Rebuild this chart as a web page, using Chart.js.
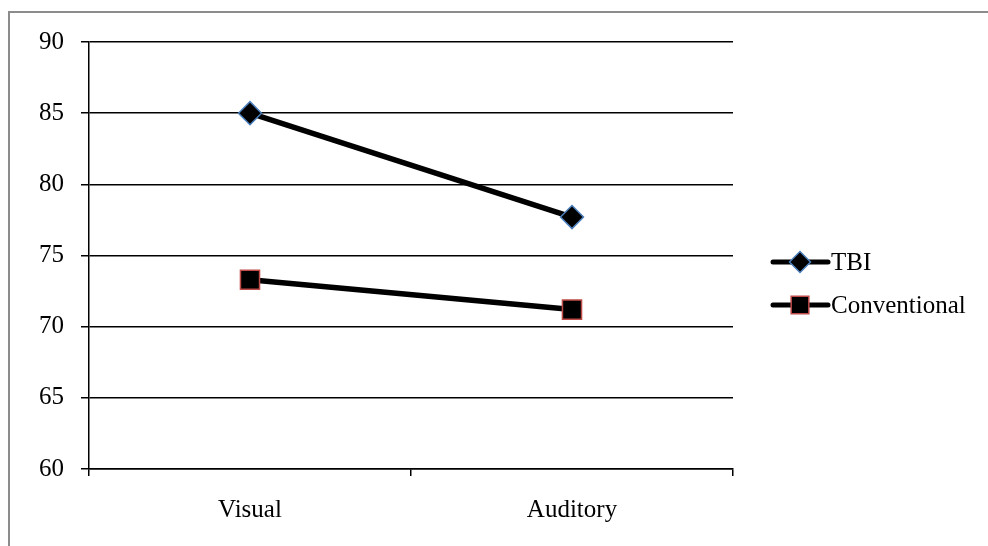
<!DOCTYPE html>
<html>
<head>
<meta charset="utf-8">
<script src="https://cdn.jsdelivr.net/npm/chart.js@4/dist/chart.umd.min.js"></script>
<style>
  html, body { margin: 0; padding: 0; background: #fff; }
  #wrap { position: relative; width: 988px; height: 546px; overflow: hidden; }
  #frame { position: absolute; left: 8px; top: 11px; width: 1000px; height: 600px; border-left: 2px solid #8c8c8c; border-top: 2px solid #8c8c8c; }
  canvas { position: absolute; left: 0; top: 0; }
</style>
</head>
<body>
<div id="wrap">
  <div id="frame"></div>
  <canvas id="chart" width="988" height="546"></canvas>
</div>
<script>
// data
var categories = ["Visual", "Auditory"];
var tbi = [85, 77.7];
var conventional = [73.3, 71.2];
var yMin = 60, yMax = 90, yStep = 5;

var fontFamily = "'Liberation Serif', 'Times New Roman', serif";
var fontSize = 25;

// legend drawn next to the plot, line + marker like the original
var sideLegend = {
    id: "sideLegend",
    afterDraw: function(chart) {
        var ctx = chart.ctx;
        var area = chart.chartArea;
        var x0 = area.right + 40;
        var rows = [area.top + 220, area.top + 263];
        chart.data.datasets.forEach(function(ds, i) {
            var y = rows[i];
            ctx.save();
            ctx.strokeStyle = "#000";
            ctx.lineWidth = 5;
            ctx.lineCap = "round";
            ctx.beginPath();
            ctx.moveTo(x0, y);
            ctx.lineTo(x0 + 55, y);
            ctx.stroke();
            ctx.fillStyle = "#000";
            ctx.strokeStyle = ds.pointBorderColor;
            ctx.lineWidth = ds.pointBorderWidth;
            Chart.helpers.drawPoint(ctx, {
                pointStyle: ds.pointStyle,
                rotation: 0,
                radius: ds.legendRadius,
                borderWidth: ds.pointBorderWidth
            }, x0 + 27, y);
            ctx.fillStyle = "#000";
            ctx.font = fontSize + "px " + fontFamily;
            ctx.textBaseline = "middle";
            ctx.textAlign = "left";
            ctx.fillText(ds.label, x0 + 58, y + 1);
            ctx.restore();
        });
    }
};

new Chart(document.getElementById("chart"), {
    type: "line",
    data: {
        labels: categories,
        datasets: [{
            label: "TBI",
            data: tbi,
            borderColor: "#000",
            borderWidth: 5.5,
            pointStyle: "rectRot",
            pointRadius: 11.5,
            legendRadius: 10.5,
            pointBackgroundColor: "#000",
            pointBorderColor: "#4a7ebb",
            pointBorderWidth: 1.5
        }, {
            label: "Conventional",
            data: conventional,
            borderColor: "#000",
            borderWidth: 5.5,
            pointStyle: "rect",
            pointRadius: 13.5,
            legendRadius: 12.5,
            pointBackgroundColor: "#000",
            pointBorderColor: "#be4b48",
            pointBorderWidth: 1.5
        }]
    },
    options: {
        responsive: false,
        animation: false,
        devicePixelRatio: 1,
        layout: { padding: { left: 0, top: 42, right: 255, bottom: 0 } },
        plugins: { legend: { display: false }, tooltip: { enabled: false } },
        scales: {
            x: {
                offset: true,
                grid: { offset: true, drawOnChartArea: false, color: "#000", lineWidth: 1.5, tickLength: 7 },
                border: { color: "#000", width: 1.5 },
                ticks: { color: "#000", font: { family: fontFamily, size: fontSize }, padding: 19 },
                afterFit: function(scale) { scale.height = 77; }
            },
            y: {
                min: yMin,
                max: yMax,
                grid: { color: "#000", lineWidth: 1.5, tickLength: 8 },
                border: { color: "#000", width: 1.5 },
                ticks: { stepSize: yStep, color: "#000", font: { family: fontFamily, size: fontSize }, padding: 17 },
                afterFit: function(scale) { scale.width = 89; }
            }
        }
    },
    plugins: [sideLegend]
});
</script>
</body>
</html>
